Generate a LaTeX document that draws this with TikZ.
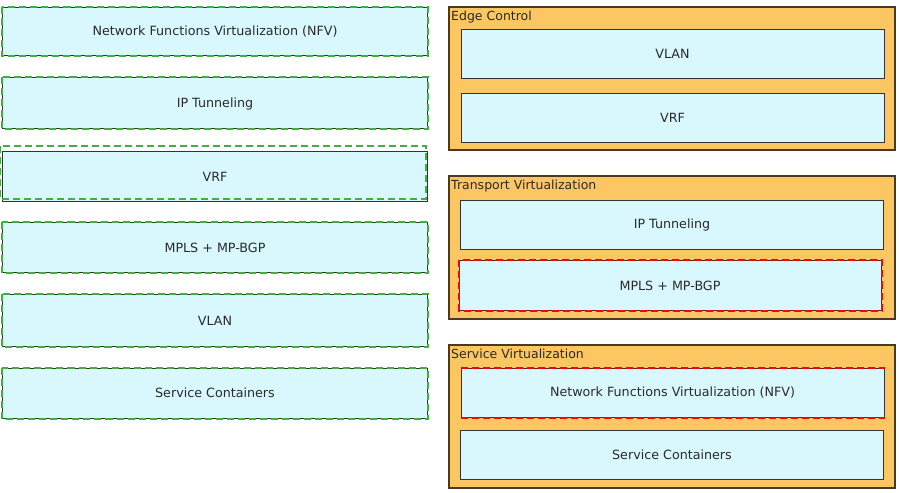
\documentclass[tikz,border=0pt]{standalone}
\usepackage{fontspec}
\setmainfont{DejaVu Sans}
\definecolor{cyanfill}{HTML}{D8F8FD}
\definecolor{panelfill}{HTML}{FCC763}
\definecolor{panelline}{HTML}{4A3A1E}
\definecolor{boxline}{HTML}{333333}
\definecolor{selgreen}{HTML}{3FB03F}
\definecolor{selred}{HTML}{FF0000}
\definecolor{txt}{HTML}{2A2A2A}
\tikzset{
  item/.style={draw=boxline, fill=cyanfill, line width=1bp, rectangle, inner sep=0pt,
    minimum width=423bp, minimum height=49bp, font=\fontsize{12.7bp}{14bp}\selectfont, text=txt},
  panel/.style={draw=panelline, fill=panelfill, line width=1.2bp, rectangle, inner sep=0pt,
    minimum width=446bp, minimum height=143bp},
  paneltitle/.style={anchor=base west, inner sep=0pt, font=\fontsize{12.5bp}{14bp}\selectfont, text=txt},
  greensel/.style={draw=selgreen, line width=2bp, dash pattern=on 7bp off 4bp},
  redsel/.style={draw=selred, line width=2bp, dash pattern=on 7bp off 4bp},
}
\begin{document}
\begin{tikzpicture}[x=1bp,y=-1bp]
\useasboundingbox[fill=white] (0,0) rectangle (899,493);
% left column
\node[item, minimum width=424bp, minimum height=48bp] (lnfv) at (215,32) {Network Functions Virtualization (NFV)};
\node[item, minimum width=424bp, minimum height=51bp] (lipt) at (215,103.5) {IP Tunneling};
\node[item, minimum width=424bp, minimum height=50bp] (lvrf) at (215,177) {VRF};
\node[item, minimum width=424bp, minimum height=50bp] (lmpls) at (215,248) {MPLS + MP-BGP};
\node[item, minimum width=424bp, minimum height=51bp] (lvlan) at (215,320.5) {VLAN};
\node[item, minimum width=424bp, minimum height=50bp] (lsc) at (215,393) {Service Containers};
\draw[greensel] (lnfv.north west) rectangle (lnfv.south east);
\draw[greensel] (lipt.north west) rectangle (lipt.south east);
\draw[greensel] ([shift={(-2,-5)}]lvrf.north west) rectangle ([shift={(-2,-3)}]lvrf.south east);
\draw[greensel] (lmpls.north west) rectangle (lmpls.south east);
\draw[greensel] (lvlan.north west) rectangle (lvlan.south east);
\draw[greensel] (lsc.north west) rectangle (lsc.south east);
% right panels
\node[panel] (edge) at (672,78.5) {};
\node[paneltitle] (edget) at (451,21) {Edge Control};
\node[item] (rvlan) at (672.5,54) {VLAN};
\node[item] (rvrf) at (672.5,118) {VRF};
\node[panel] (trans) at (672,247.5) {};
\node[paneltitle] (transt) at (451,190) {Transport Virtualization};
\node[item] (ript) at (672,225) {IP Tunneling};
\node[item, minimum width=422bp] (rmpls) at (670,285.5) {MPLS + MP-BGP};
\draw[redsel] (rmpls.north west) rectangle (rmpls.south east);
\node[panel] (serv) at (672,416.5) {};
\node[paneltitle] (servt) at (451,359) {Service Virtualization};
\node[item] (rnfv) at (672.5,392.5) {Network Functions Virtualization (NFV)};
\draw[redsel] (rnfv.north west) -- (rnfv.north east);
\draw[redsel] (rnfv.south west) -- (rnfv.south east);
\node[item] (rsc) at (672,454.5) {Service Containers};
\end{tikzpicture}
\end{document}
